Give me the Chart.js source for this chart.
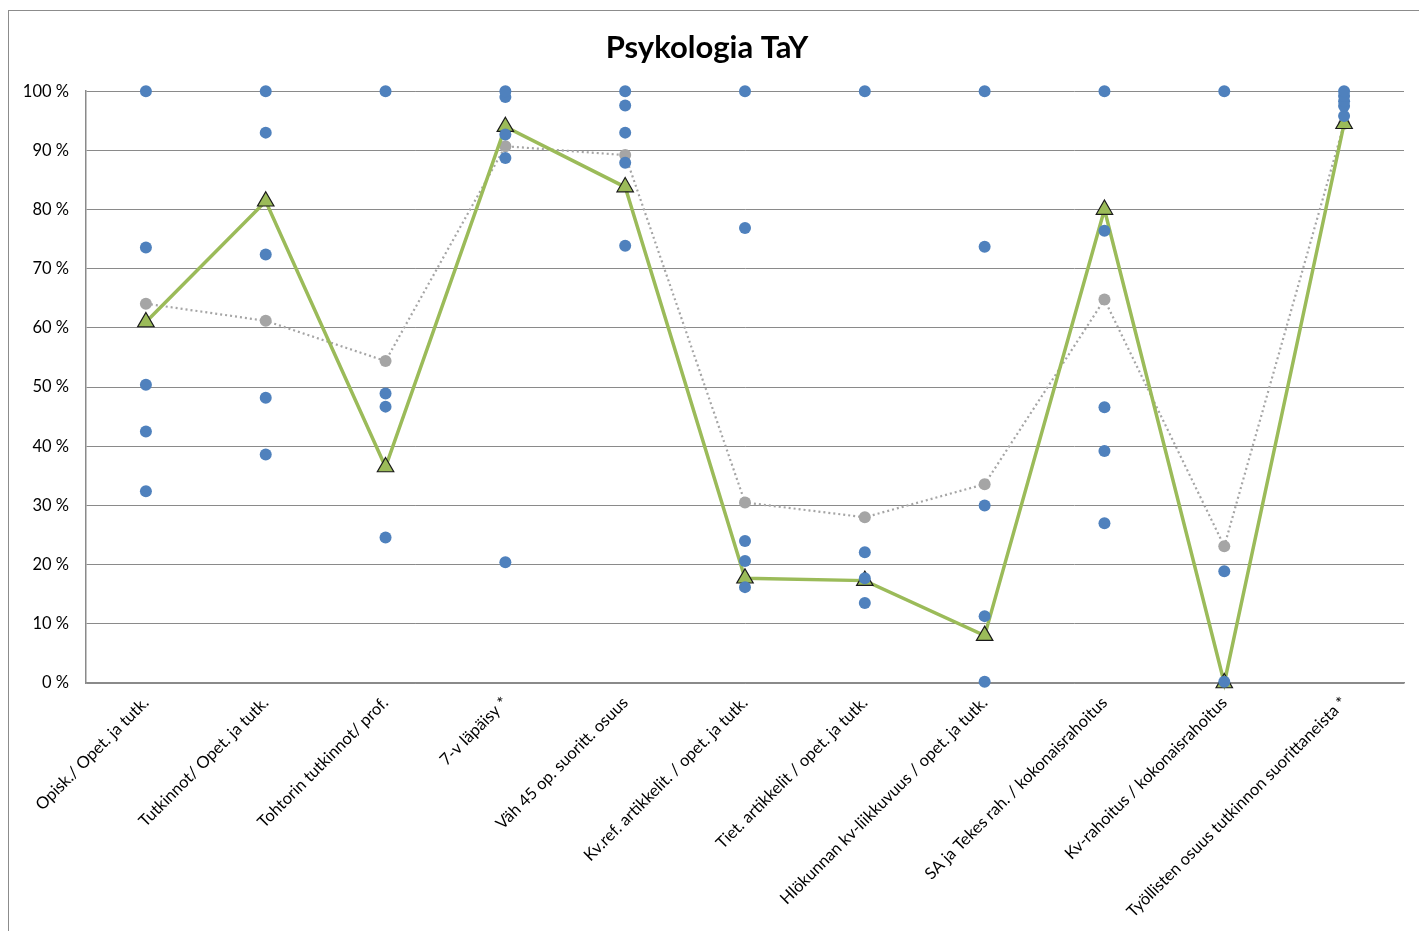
<!DOCTYPE html>
<html>
<head>
<meta charset="utf-8">
<script src="https://cdn.jsdelivr.net/npm/chart.js@4.4.0/dist/chart.umd.min.js"></script>
<style>
    html, body { margin: 0; padding: 0; background: #ffffff; overflow: hidden; }
    #wrap { position: relative; width: 1419px; height: 931px; }
    #chart { position: absolute; left: 0; top: 0; }
    #frame {
        position: absolute; left: 8px; top: 10px; width: 1440px; height: 960px;
        border: 1.5px solid #8c8c8c; pointer-events: none;
    }
</style>
</head>
<body>
<div id="wrap">
    <canvas id="chart" width="1419" height="931"></canvas>
    <div id="frame"></div>
</div>
<script>
// Psykologia TaY - tunnusluvut verrattuna muihin yksiköihin

const categories = [
    'Opisk./ Opet. ja tutk.',
    'Tutkinnot/ Opet. ja tutk.',
    'Tohtorin tutkinnot/ prof.',
    '7-v läpäisy *',
    'Väh 45 op. suoritt. osuus',
    'Kv.ref. artikkelit. / opet. ja tutk.',
    'Tiet. artikkelit / opet. ja tutk.',
    'Hlökunnan kv-liikkuvuus / opet. ja tutk.',
    'SA ja Tekes rah. / kokonaisrahoitus',
    'Kv-rahoitus / kokonaisrahoitus',
    'Työllisten osuus tutkinnon suorittaneista *'
];

// muut yksiköt (siniset pisteet)
const otherA = [100, 100, 100, 100, 100, 100, 100, 100, 100, 100, 100];
const otherB = [73.6, 93.0, 48.9, 99.0, 97.6, 76.9, 22.1, 73.7, 76.4, 18.9, 99.2];
const otherC = [50.4, 72.4, 46.7, 92.7, 93.0, 24.0, 17.7, 30.0, 46.6, 0.2, 98.3];
const otherD = [42.5, 48.2, 24.6, 88.7, 87.9, 20.6, 13.5, 11.3, 39.2, null, 97.5];
const otherE = [32.4, 38.6, null, 20.4, 73.9, 16.2, null, 0.2, 27.0, null, 95.8];

// Psykologia TaY (vihreä viiva)
const tayValues = [61.0, 81.4, 36.5, 94.0, 83.8, 17.7, 17.3, 8.0, 80.0, 0, 94.5];

// keskiarvo (harmaa pisteviiva)
const avgValues = [64.1, 61.2, 54.4, 90.7, 89.2, 30.5, 28.0, 33.6, 64.8, 23.1, 94.5];

const yTicks = [0, 10, 20, 30, 40, 50, 60, 70, 80, 90, 100];

const BLUE = '#4f81bd';
const GREEN = '#9bbb59';
const GRAY = '#a5a5a5';
const GRID = '#8a8a8a';

function blueSet(data) {
    return {
        label: 'muut',
        data: data,
        showLine: false,
        pointStyle: 'circle',
        pointRadius: 6,
        pointBackgroundColor: BLUE,
        pointBorderColor: BLUE,
        pointBorderWidth: 0,
        clip: false
    };
}

const ctx = document.getElementById('chart').getContext('2d');

new Chart(ctx, {
    type: 'line',
    data: {
        labels: categories,
        datasets: [
            blueSet(otherA),
            blueSet(otherB),
            blueSet(otherC),
            blueSet(otherD),
            blueSet(otherE),
            {
                label: 'Psykologia TaY',
                data: tayValues,
                borderColor: GREEN,
                borderWidth: 3.5,
                pointStyle: 'triangle',
                pointRadius: 9.5,
                pointBackgroundColor: GREEN,
                pointBorderColor: '#1a1a1a',
                pointBorderWidth: 1.2,
                tension: 0,
                clip: false
            },
            {
                label: 'Keskiarvo',
                data: avgValues,
                borderColor: GRAY,
                borderWidth: 2.2,
                borderDash: [2, 3],
                pointStyle: 'circle',
                pointRadius: 6,
                pointBackgroundColor: GRAY,
                pointBorderColor: GRAY,
                pointBorderWidth: 0,
                tension: 0,
                clip: false
            }
        ]
    },
    options: {
        responsive: false,
        animation: false,
        devicePixelRatio: 1,
        layout: {
            padding: { left: 10, right: 15, top: 20, bottom: 5 }
        },
        plugins: {
            legend: { display: false },
            tooltip: { enabled: false },
            title: {
                display: true,
                text: 'Psykologia TaY',
                color: '#000000',
                font: { family: 'Lato', size: 31, weight: 'bold' },
                padding: { top: 9, bottom: 25 }
            }
        },
        scales: {
            x: {
                offset: true,
                grid: { display: false, drawTicks: false },
                border: { display: true, color: GRID, width: 1.5 },
                ticks: {
                    color: '#000000',
                    font: { family: 'Lato', size: 16.5 },
                    minRotation: 45,
                    maxRotation: 45,
                    padding: 10,
                    autoSkip: false
                },
                afterFit: function(axis) { axis.height = 243; }
            },
            y: {
                min: 0,
                max: 100,
                afterBuildTicks: function(axis) {
                    axis.ticks = yTicks.map(v => ({ value: v }));
                },
                grid: { color: GRID, lineWidth: 1, drawTicks: false },
                border: { display: true, color: GRID, width: 1.5 },
                ticks: {
                    color: '#000000',
                    font: { family: 'Lato', size: 16.5 },
                    padding: 17,
                    callback: function(value) { return value + ' %'; }
                },
                afterFit: function(axis) { axis.width = 76; }
            }
        }
    }
});
</script>
</body>
</html>
